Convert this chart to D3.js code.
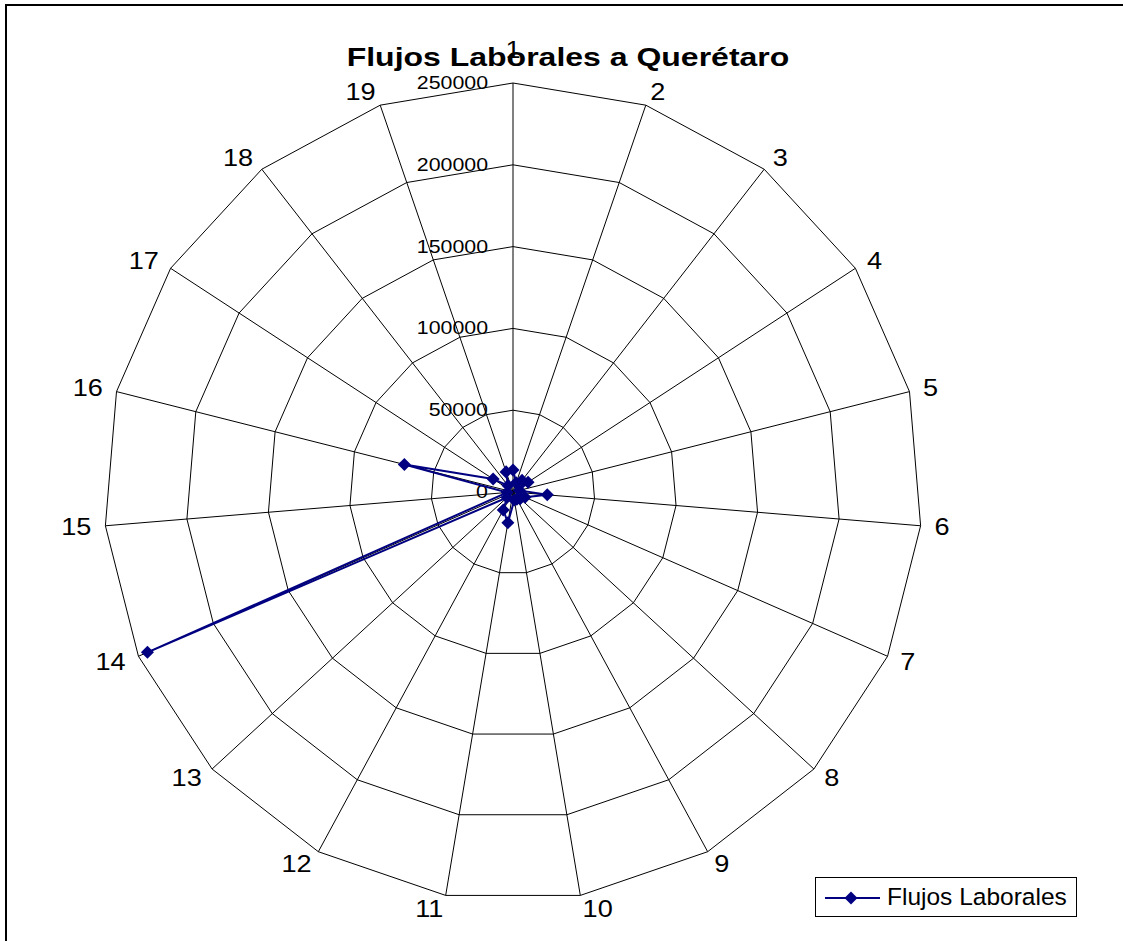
<!DOCTYPE html>
<html>
<head>
<meta charset="utf-8">
<script src="https://cdn.jsdelivr.net/npm/d3@7"></script>
<style>
  html, body { margin: 0; padding: 0; background: #fff; }
  svg { display: block; }
  text { font-family: "Liberation Sans", Arial, sans-serif; }
</style>
</head>
<body>
<svg id="chart" width="1123" height="941"></svg>
<script>
// ---- data ----
const categories = ["1","2","3","4","5","6","7","8","9","10","11","12","13","14","15","16","17","18","19"];
const seriesName = "Flujos Laborales";
const values = [13500, 6000, 9000, 11000, 4000, 21000, 8000, 6000, 5000, 5000, 19000, 12500, 5000, 244000, 3500, 68500, 14500, 5000, 13000];
const tickValues = [0, 50000, 100000, 150000, 200000, 250000];
const title = "Flujos Laborales a Querétaro";

// ---- layout ----
const W = 1123, H = 941;
const cx = 513, cy = 492, R = 409;
const color = "#000080";

const svg = d3.select("#chart");
svg.append("rect").attr("width", W).attr("height", H).attr("fill", "#fff");
svg.append("rect").attr("x", 6).attr("y", 5).attr("width", W + 20).attr("height", H + 20)
  .attr("fill", "none").attr("stroke", "#000").attr("stroke-width", 2);

const r = d3.scaleLinear().domain([0, 250000]).range([0, R]);
const n = categories.length;
const ang = d3.scaleLinear().domain([0, n]).range([0, 2 * Math.PI]);
const px = (i, v) => cx + r(v) * Math.sin(ang(i));
const py = (i, v) => cy - r(v) * Math.cos(ang(i));

const g = svg.append("g");

// ring polygons
tickValues.filter(t => t > 0).forEach(t => {
  const pts = categories.map((c, i) => [px(i, t), py(i, t)]);
  g.append("polygon").attr("points", pts.map(p => p.join(",")).join(" "))
    .attr("fill", "none").attr("stroke", "#000").attr("stroke-width", 1);
});
// spokes
categories.forEach((c, i) => {
  g.append("line").attr("x1", cx).attr("y1", cy)
    .attr("x2", px(i, 250000)).attr("y2", py(i, 250000))
    .attr("stroke", "#000").attr("stroke-width", 1);
});

// tick labels
tickValues.forEach(t => {
  g.append("text")
    .attr("transform", `translate(${cx - 25},${cy - r(t) + 6}) scale(1.22,1)`)
    .attr("text-anchor", "end")
    .attr("font-size", 17.5)
    .attr("fill", "#000")
    .text(t);
});

// category labels
categories.forEach((c, i) => {
  const a = ang(i);
  const s = Math.sin(a), co = Math.cos(a);
  const off = i === 0 ? 33 : 14;
  const x = cx + (R + off) * s;
  const y = cy - (R + off) * co;
  const anchor = s > 0.05 ? "start" : (s < -0.05 ? "end" : "middle");
  g.append("text")
    .attr("transform", `translate(${x},${y + 8}) scale(1.18,1)`)
    .attr("text-anchor", anchor)
    .attr("font-size", 23)
    .attr("fill", "#000")
    .text(c);
});

// series line
const line = d3.line().x(d => px(d.i, d.v)).y(d => py(d.i, d.v)).curve(d3.curveLinearClosed);
const data = values.map((v, i) => ({ i, v }));
g.append("path").attr("d", line(data)).attr("fill", "none")
  .attr("stroke", color).attr("stroke-width", 2);

g.selectAll(".pt").data(data).enter().append("path")
  .attr("class", "pt")
  .attr("d", d3.symbol().type(d3.symbolSquare).size(85))
  .attr("transform", d => `translate(${px(d.i, d.v)},${py(d.i, d.v)}) rotate(45)`)
  .attr("fill", color);

// title
svg.append("text")
  .attr("transform", `translate(568,66) scale(1.28,1)`)
  .attr("text-anchor", "middle")
  .attr("font-size", 25)
  .attr("font-weight", "bold")
  .attr("fill", "#000")
  .text(title);

// legend
const lg = svg.append("g");
lg.append("rect").attr("x", 815.5).attr("y", 877.5).attr("width", 261).attr("height", 39)
  .attr("fill", "#fff").attr("stroke", "#000").attr("stroke-width", 1);
lg.append("line").attr("x1", 825).attr("x2", 880).attr("y1", 898).attr("y2", 898)
  .attr("stroke", color).attr("stroke-width", 2);
lg.append("path").attr("d", d3.symbol().type(d3.symbolSquare).size(85))
  .attr("transform", "translate(851,898) rotate(45)").attr("fill", color);
lg.append("text").attr("x", 887).attr("y", 905).attr("font-size", 24.5)
  .attr("fill", "#000").text(seriesName);
</script>
</body>
</html>
